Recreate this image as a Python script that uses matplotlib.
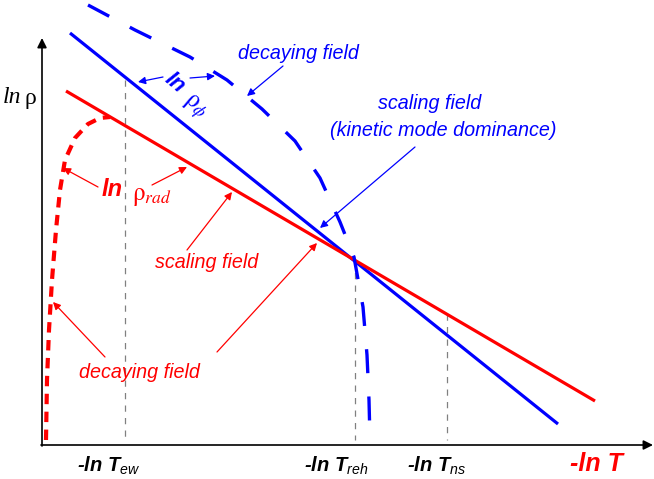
import matplotlib
matplotlib.use("Agg")
import matplotlib.pyplot as plt
import numpy as np

plt.rcParams['mathtext.fontset'] = 'custom'
plt.rcParams['mathtext.it'] = 'Liberation Sans:italic'
plt.rcParams['mathtext.rm'] = 'Liberation Sans'
plt.rcParams['mathtext.bf'] = 'Liberation Sans:bold'
plt.rcParams['mathtext.bfit'] = 'Liberation Sans:italic:bold'

# ---- data (pixel-like coordinates, y downward) ----
blue_scaling_x = [70, 558]
blue_scaling_y = [33, 424]
red_scaling_x = [66, 595]
red_scaling_y = [91, 401]
blue_decay_x = [88, 135, 190, 227, 262, 295, 320, 340, 354, 363, 367, 369, 370]
blue_decay_y = [5, 30, 57, 80, 109, 141, 178, 222, 257, 307, 355, 400, 440]
red_decay_x = [46, 47, 49, 52, 56, 60, 65, 75, 88, 100, 110]
red_decay_y = [440, 380, 330, 280, 230, 190, 160, 138, 124, 118, 117]
guide_x = [125, 355, 447]
guide_top = [80, 260, 314]
guide_bottom = [440, 440, 440]
tick_labels = [r'-ln $\mathbfit{T}_{ew}$', r'-ln $\mathbfit{T}_{reh}$', r'-ln $\mathbfit{T}_{ns}$']
tick_label_x = [109, 336, 437]

fig = plt.figure(figsize=(6.54, 4.79), dpi=100)
ax = fig.add_axes([0, 0, 1, 1])
ax.set_xlim(0, 654)
ax.set_ylim(479, 0)
ax.axis('off')

BLUE = '#0000ff'
RED = '#ff0000'
FS = 14.2

# axes arrows
ax.annotate('', xy=(42, 38), xytext=(42, 446),
            arrowprops=dict(arrowstyle='-|>', color='black', lw=1.2, mutation_scale=14, shrinkA=0, shrinkB=0))
ax.annotate('', xy=(653, 445), xytext=(41, 445),
            arrowprops=dict(arrowstyle='-|>', color='black', lw=1.2, mutation_scale=14, shrinkA=0, shrinkB=0))

# guide lines
for gx, gt, gb in zip(guide_x, guide_top, guide_bottom):
    ax.plot([gx, gx], [gt, gb], color='#808080', lw=0.9, linestyle=(0, (5, 5)))

# curves
ax.plot(blue_scaling_x, blue_scaling_y, color=BLUE, lw=2.3, solid_capstyle='butt')
ax.plot(red_scaling_x, red_scaling_y, color=RED, lw=2.3, solid_capstyle='butt')
ax.plot(blue_decay_x, blue_decay_y, color=BLUE, lw=2.4, linestyle=(0, (7.2, 7.0)))
ax.plot(red_decay_x, red_decay_y, color=RED, lw=3.0, linestyle=(0, (2.5, 1.8)))

def arrow(x0, y0, x1, y1, color):
    ax.annotate('', xy=(x1, y1), xytext=(x0, y0),
                arrowprops=dict(arrowstyle='-|>', color=color, lw=0.9, mutation_scale=11,
                                shrinkA=0, shrinkB=0))

# y label
ax.text(12, 97, 'ln', fontfamily='Liberation Serif', style='italic', fontsize=17,
        ha='center', va='center', color='black')
ax.text(30, 98, 'ρ', fontfamily='Liberation Serif', fontsize=17,
        ha='center', va='center', color='black')

# x tick labels
for lab, lx in zip(tick_labels, tick_label_x):
    ax.text(lx, 466, lab, fontfamily='Liberation Sans', fontweight='bold', style='italic',
            fontsize=14.5, ha='center', va='center', color='black')
ax.text(596, 464, '-ln T', fontfamily='Liberation Sans', fontweight='bold', style='italic',
        fontsize=18, ha='center', va='center', color=RED)

# blue annotations
ax.text(298, 53, 'decaying field', fontfamily='Liberation Sans', style='italic', fontsize=FS,
        ha='center', va='center', color=BLUE)
arrow(283, 66, 247, 96, BLUE)
ax.text(430, 103, 'scaling field', fontfamily='Liberation Sans', style='italic', fontsize=FS,
        ha='center', va='center', color=BLUE)
ax.text(443, 131, '(kinetic mode dominance)', fontfamily='Liberation Sans', style='italic', fontsize=FS,
        ha='center', va='center', color=BLUE)
arrow(415, 147, 320, 228, BLUE)
ax.text(175, 83, 'ln', fontfamily='Liberation Sans', fontweight='bold', style='italic', fontsize=16,
        ha='center', va='center', color=BLUE, rotation=-40)
ax.text(194, 107, r'$\mathrm{\rho}_{\phi}$', math_fontfamily='stix', fontsize=18,
        ha='center', va='center', color=BLUE, rotation=-40)
arrow(163, 77, 138, 82, BLUE)
arrow(190, 78, 215, 76, BLUE)

# red annotations
ax.text(112, 190, 'ln', fontfamily='Liberation Sans', fontweight='bold', style='italic', fontsize=17,
        ha='center', va='center', color=RED)
ax.text(152, 196, r'$\mathrm{\rho}_{rad}$', math_fontfamily='stix', fontsize=18,
        ha='center', va='center', color=RED)
arrow(98, 187, 63, 168, RED)
arrow(152, 185, 187, 167, RED)
ax.text(207, 263, 'scaling field', fontfamily='Liberation Sans', style='italic', fontsize=FS,
        ha='center', va='center', color=RED)
arrow(187, 250, 232, 192, RED)
ax.text(139, 372, 'decaying field', fontfamily='Liberation Sans', style='italic', fontsize=FS,
        ha='center', va='center', color=RED)
arrow(105, 357, 53, 302, RED)
arrow(217, 352, 317, 243, RED)

fig.savefig('out.png', dpi=100)
